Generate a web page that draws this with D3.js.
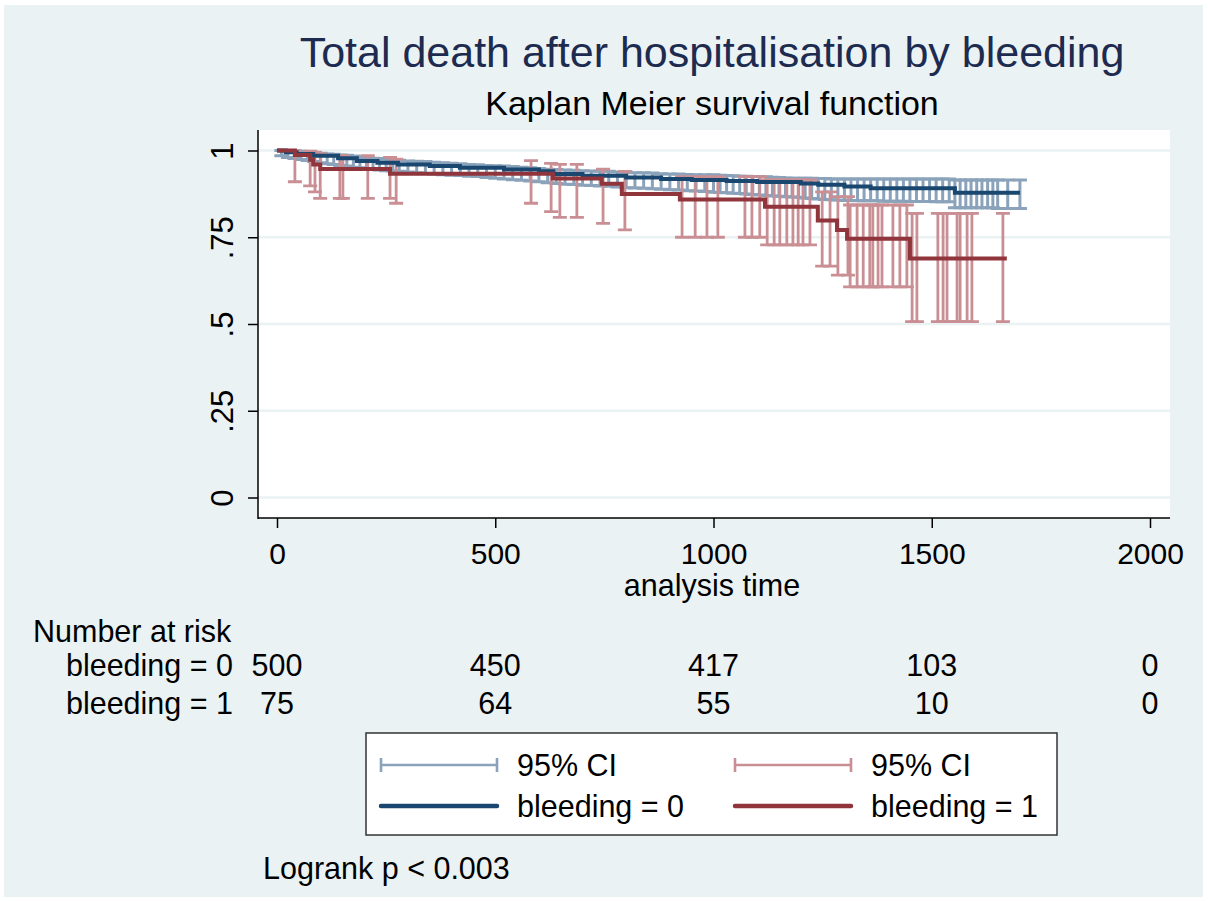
<!DOCTYPE html>
<html><head><meta charset="utf-8">
<script src="https://cdn.jsdelivr.net/npm/d3@7"></script>
<style>body{margin:0;background:#fff}svg{display:block;font-family:"Liberation Sans",Arial,sans-serif}</style>
</head><body><svg id="c" width="1208" height="901"></svg>
<script>
// ---------- data ----------
const titleText = "Total death after hospitalisation by bleeding";
const subtitleText = "Kaplan Meier survival function";
const xTicks = [0, 500, 1000, 1500, 2000];
const yTicks = [0, 0.25, 0.5, 0.75, 1];
const yTickLabels = ["0", ".25", ".5", ".75", "1"];
const xTitle = "analysis time";

// KM step function, bleeding = 0
const times0 = [0, 20, 45, 83, 140, 183, 230, 277, 350, 419, 520, 600, 633, 700, 800, 880, 950, 1030, 1100, 1200, 1240, 1300, 1360, 1553];
const surv0  = [1, 0.995, 0.99, 0.985, 0.978, 0.970, 0.965, 0.960, 0.955, 0.950, 0.945, 0.940, 0.932, 0.927, 0.922, 0.918, 0.915, 0.912, 0.909, 0.905, 0.901, 0.896, 0.891, 0.878];
const end0 = 1702;
// KM step function, bleeding = 1
const times1 = [0, 41, 76, 83, 99, 259, 632, 744, 790, 923, 1118, 1239, 1283, 1306, 1450];
const surv1  = [1, 0.987, 0.973, 0.960, 0.947, 0.933, 0.919, 0.904, 0.875, 0.859, 0.838, 0.798, 0.771, 0.746, 0.689];
const end1 = 1672;

// 95% CI caps, bleeding = 0
const ci0Time = [10, 25, 40, 55, 70, 85, 100, 115, 130, 145, 160, 175, 190, 205, 220, 235, 250, 265, 280, 300, 320, 340, 360, 380, 400, 420, 440, 460, 480, 500, 520, 540, 560, 580, 600, 620, 640, 660, 680, 700, 720, 740, 760, 780, 800, 820, 840, 860, 880, 900, 920, 940, 960, 980, 1000, 1015, 1030, 1045, 1060, 1075, 1090, 1105, 1120, 1135, 1150, 1165, 1180, 1195, 1210, 1225, 1240, 1255, 1270, 1285, 1300, 1315, 1330, 1345, 1360, 1375, 1390, 1405, 1420, 1435, 1450, 1465, 1480, 1495, 1510, 1525, 1540, 1553, 1565, 1578, 1590, 1603, 1615, 1628, 1640, 1651, 1674, 1702];
const ci0Lo   = [0.985, 0.98, 0.977, 0.974, 0.971, 0.968, 0.965, 0.962, 0.96, 0.957, 0.955, 0.952, 0.95, 0.948, 0.946, 0.944, 0.942, 0.941, 0.94, 0.938, 0.936, 0.934, 0.932, 0.93, 0.929, 0.928, 0.926, 0.925, 0.922, 0.92, 0.918, 0.916, 0.914, 0.912, 0.91, 0.907, 0.905, 0.903, 0.902, 0.9, 0.899, 0.898, 0.897, 0.895, 0.893, 0.892, 0.891, 0.89, 0.888, 0.887, 0.886, 0.884, 0.883, 0.882, 0.88, 0.879, 0.878, 0.877, 0.876, 0.875, 0.873, 0.872, 0.87, 0.869, 0.868, 0.867, 0.866, 0.865, 0.863, 0.862, 0.86, 0.859, 0.858, 0.857, 0.856, 0.856, 0.855, 0.855, 0.855, 0.855, 0.854, 0.854, 0.854, 0.854, 0.853, 0.853, 0.853, 0.853, 0.852, 0.852, 0.852, 0.835, 0.835, 0.835, 0.835, 0.835, 0.835, 0.835, 0.835, 0.833, 0.833, 0.833];
const ci0Hi   = [1, 1, 0.999, 0.998, 0.996, 0.994, 0.992, 0.99, 0.989, 0.987, 0.986, 0.984, 0.982, 0.98, 0.978, 0.977, 0.975, 0.974, 0.972, 0.97, 0.969, 0.968, 0.966, 0.965, 0.963, 0.962, 0.96, 0.959, 0.957, 0.956, 0.955, 0.954, 0.952, 0.95, 0.948, 0.946, 0.945, 0.944, 0.943, 0.942, 0.941, 0.94, 0.94, 0.938, 0.937, 0.936, 0.936, 0.935, 0.933, 0.932, 0.932, 0.931, 0.93, 0.93, 0.93, 0.929, 0.928, 0.927, 0.926, 0.926, 0.925, 0.925, 0.924, 0.923, 0.922, 0.921, 0.92, 0.92, 0.92, 0.92, 0.919, 0.919, 0.918, 0.918, 0.918, 0.918, 0.918, 0.918, 0.918, 0.918, 0.918, 0.918, 0.918, 0.918, 0.918, 0.918, 0.918, 0.918, 0.918, 0.918, 0.918, 0.915, 0.915, 0.915, 0.915, 0.915, 0.915, 0.915, 0.915, 0.915, 0.915, 0.915];

// 95% CI caps, bleeding = 1
const ci1Time = [41, 76, 87, 99, 144, 151, 208, 259, 273, 582, 628, 648, 687, 747, 797, 928, 958, 985, 1010, 1072, 1088, 1106, 1123, 1139, 1152, 1168, 1182, 1194, 1205, 1221, 1249, 1267, 1285, 1308, 1313, 1329, 1343, 1358, 1365, 1377, 1386, 1411, 1427, 1443, 1455, 1466, 1514, 1526, 1535, 1558, 1565, 1581, 1592, 1663];
const ci1Lo   = [0.910, 0.898, 0.881, 0.862, 0.862, 0.862, 0.862, 0.862, 0.848, 0.848, 0.824, 0.807, 0.807, 0.79, 0.771, 0.75, 0.75, 0.75, 0.75, 0.75, 0.75, 0.75, 0.728, 0.728, 0.728, 0.728, 0.728, 0.728, 0.728, 0.728, 0.667, 0.667, 0.641, 0.641, 0.607, 0.607, 0.607, 0.607, 0.607, 0.607, 0.607, 0.607, 0.607, 0.607, 0.507, 0.507, 0.507, 0.507, 0.507, 0.507, 0.507, 0.507, 0.507, 0.507];
const ci1Hi   = [0.999, 0.998, 0.995, 0.99, 0.985, 0.985, 0.985, 0.98, 0.975, 0.971, 0.963, 0.96, 0.96, 0.946, 0.94, 0.925, 0.925, 0.925, 0.925, 0.925, 0.925, 0.925, 0.915, 0.915, 0.915, 0.915, 0.915, 0.915, 0.915, 0.915, 0.881, 0.881, 0.867, 0.867, 0.843, 0.843, 0.843, 0.843, 0.843, 0.843, 0.843, 0.843, 0.843, 0.843, 0.819, 0.819, 0.819, 0.819, 0.819, 0.819, 0.819, 0.819, 0.819, 0.819];

// number at risk
const riskTimes = [0, 500, 1000, 1500, 2000];
const riskLabels = ["bleeding = 0", "bleeding = 1"];
const risk0 = [500, 450, 417, 103, 0];
const risk1 = [75, 64, 55, 10, 0];
const legendLabels = ["95% CI", "95% CI", "bleeding = 0", "bleeding = 1"];
const pvalText = "Logrank p < 0.003";

// ---------- drawing ----------
const C = {bg:"#eaf2f3", line0:"#1a476f", line1:"#90353b", ci0:"#8aa3bb", ci1:"#c98f94", title:"#1e2b50"};
const svg = d3.select("#c");
svg.append("rect").attr("x",4).attr("y",5).attr("width",1199).attr("height",892).attr("fill",C.bg);

const px0 = 258, px1 = 1170, py0 = 130, py1 = 518;
const x = d3.scaleLinear().domain([0,2000]).range([277,1150]);
const y = d3.scaleLinear().domain([0,1]).range([497.5,150.5]);

svg.append("rect").attr("x",px0).attr("y",py0).attr("width",px1-px0).attr("height",py1-py0).attr("fill","#fff");
// gridlines
svg.append("g").selectAll("line").data(yTicks).join("line")
  .attr("x1",px0).attr("x2",px1).attr("y1",d=>y(d)).attr("y2",d=>y(d))
  .attr("stroke",C.bg).attr("stroke-width",2.5);

// title
svg.append("text").attr("x",712).attr("y",67).attr("text-anchor","middle")
  .attr("font-size",43).attr("fill",C.title).text(titleText);
svg.append("text").attr("x",712).attr("y",115).attr("text-anchor","middle")
  .attr("font-size",34).attr("fill","#000").text(subtitleText);

// CI rcaps
function rcaps(times, lo, hi, color, sw){
  const g = svg.append("g").attr("stroke",color).attr("stroke-width",sw).attr("fill","none");
  const d = times.map((t,i)=>({t, lo:lo[i], hi:hi[i]}));
  g.selectAll("path").data(d).join("path")
    .attr("d", e => {
      const xx = x(e.t), a = y(e.hi), b = y(e.lo), w = 7;
      return `M${xx},${a}V${b}M${xx-w},${a}H${xx+w}M${xx-w},${b}H${xx+w}`;
    });
}
rcaps(ci0Time, ci0Lo, ci0Hi, C.ci0, 3);
rcaps(ci1Time, ci1Lo, ci1Hi, C.ci1, 2.8);

// KM lines
const step = d3.line().x(d=>x(d[0])).y(d=>y(d[1])).curve(d3.curveStepAfter);
function km(times, surv, end, color){
  const pts = times.map((t,i)=>[t, surv[i]]);
  pts.push([end, surv[surv.length-1]]);
  svg.append("path").datum(pts).attr("d",step).attr("fill","none")
    .attr("stroke",color).attr("stroke-width",4);
}
km(times0, surv0, end0, C.line0);
km(times1, surv1, end1, C.line1);

// axes
const yAxis = d3.axisLeft(y).tickValues(yTicks).tickSize(10).tickPadding(0)
  .tickFormat((d,i)=>yTickLabels[i]);
const gy = svg.append("g").attr("transform",`translate(${px0},0)`).call(yAxis);
gy.select(".domain").remove();
gy.attr("font-family",null);
gy.selectAll(".tick line").attr("stroke","#000").attr("stroke-width",1.5);
gy.selectAll(".tick text").attr("font-size",31).attr("fill","#000")
  .attr("x",0).attr("dy",null).attr("y",0)
  .attr("text-anchor","middle")
  .attr("transform","translate(-25,0) rotate(-90)");

const xAxis = d3.axisBottom(x).tickValues(xTicks).tickSize(10).tickPadding(0).tickFormat(d3.format("d"));
const gx = svg.append("g").attr("transform",`translate(0,${py1})`).call(xAxis);
gx.select(".domain").remove();
gx.attr("font-family",null);
gx.selectAll(".tick line").attr("stroke","#000").attr("stroke-width",1.5);
gx.selectAll(".tick text").attr("font-size",30).attr("fill","#000").attr("dy",null).attr("y",46);

svg.append("line").attr("x1",px0).attr("x2",px0).attr("y1",py0).attr("y2",py1+1).attr("stroke","#000").attr("stroke-width",1.5);
svg.append("line").attr("x1",px0).attr("x2",px1).attr("y1",py1).attr("y2",py1).attr("stroke","#000").attr("stroke-width",1.5);

svg.append("text").attr("x",712).attr("y",596).attr("text-anchor","middle").attr("font-size",30.5).text(xTitle);

// number at risk
svg.append("text").attr("x",33).attr("y",642).attr("font-size",30.5).text("Number at risk");
const riskRows = [risk0, risk1];
riskRows.forEach((row,r)=>{
  const yy = 676 + r*38;
  svg.append("text").attr("x",233).attr("y",yy).attr("text-anchor","end").attr("font-size",30.5).text(riskLabels[r]);
  svg.append("g").selectAll("text").data(row).join("text")
    .attr("x",(d,i)=>x(riskTimes[i])).attr("y",yy).attr("text-anchor","middle")
    .attr("font-size",30.5).text(d=>d);
});

// legend
const lg = svg.append("g");
lg.append("rect").attr("x",366).attr("y",733).attr("width",691).attr("height",102)
  .attr("fill","#fff").attr("stroke","#333").attr("stroke-width",1.5);
const legItems = [
  {x:381, y:765, type:"ci", color:C.ci0, label:legendLabels[0]},
  {x:735, y:765, type:"ci", color:C.ci1, label:legendLabels[1]},
  {x:381, y:806, type:"line", color:C.line0, label:legendLabels[2]},
  {x:735, y:806, type:"line", color:C.line1, label:legendLabels[3]}
];
legItems.forEach(it=>{
  if(it.type==="ci"){
    lg.append("path").attr("d",`M${it.x},${it.y}H${it.x+116}M${it.x},${it.y-7}V${it.y+7}M${it.x+116},${it.y-7}V${it.y+7}`)
      .attr("stroke",it.color).attr("stroke-width",2.6).attr("fill","none");
  } else {
    lg.append("line").attr("x1",it.x).attr("x2",it.x+116).attr("y1",it.y).attr("y2",it.y)
      .attr("stroke",it.color).attr("stroke-width",4.5).attr("stroke-linecap","round");
  }
  lg.append("text").attr("x",it.x+136).attr("y",it.y+11).attr("font-size",30.5).text(it.label);
});

svg.append("text").attr("x",263).attr("y",879).attr("font-size",30.5).text(pvalText);
</script></body></html>
